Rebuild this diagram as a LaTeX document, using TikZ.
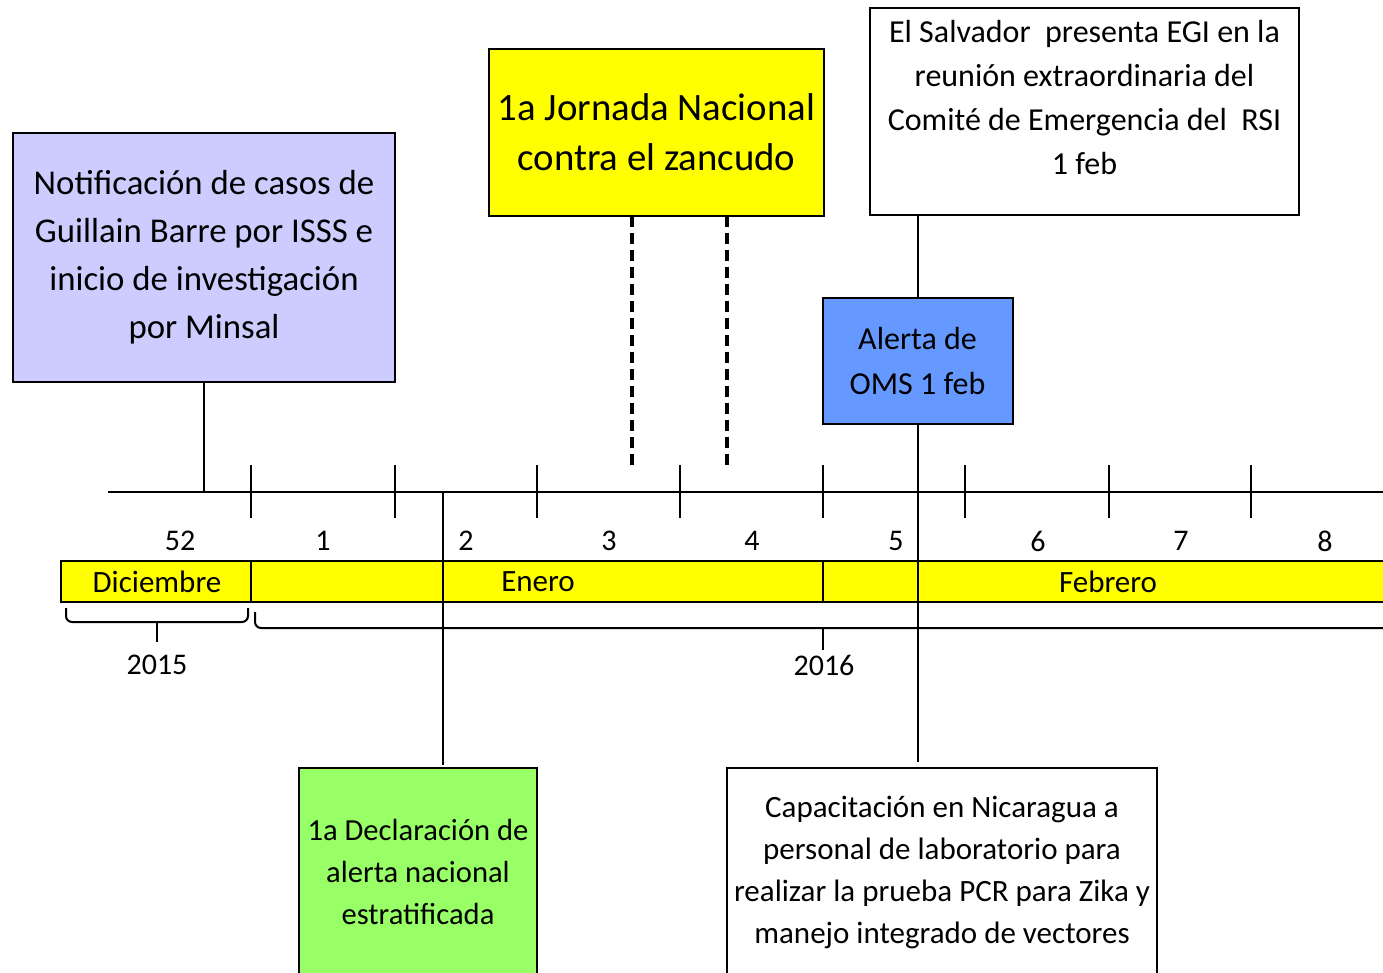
\documentclass[tikz,border=0pt]{standalone}
\usepackage{fontspec}
\setmainfont{Carlito}
\definecolor{lav}{HTML}{CCCCFF}
\definecolor{yel}{HTML}{FFFF00}
\definecolor{oms}{HTML}{6699FF}
\definecolor{grn}{HTML}{99FF66}
\begin{document}
\begin{tikzpicture}[x=0.5pt,y=-0.5pt,line width=1pt,
  box/.style={draw,line width=1pt,inner sep=0pt,align=center},
  txt/.style={inner sep=0pt,align=center},
  num/.style={inner sep=0pt,font=\fontsize{15}{18}\selectfont},
  mon/.style={inner sep=0pt,font=\fontsize{15.5}{18}\selectfont},
  dline/.style={line width=1.6pt,dash pattern=on 5.5pt off 3pt}]
\useasboundingbox (0,0) rectangle (1383,973);
\clip (0,0) rectangle (1383,973);
% timeline
\coordinate (tlA) at (108,492);
\coordinate (tlB) at (1390,492);
\draw (tlA) -- (tlB);
\foreach \x in {251,395,537,680,823,965,1109,1251}
  \draw (\x,465) -- (\x,518);
% week numbers
\foreach \x/\n in {180/52,323/1,466/2,609/3,752/4,896/5,1038/6,1181/7,1325/8}
  \node[num] (w\n) at (\x,541) {\n};
% month bar
\draw[fill=yel] (61,561) rectangle (1395,602);
\foreach \x in {251,823}
  \draw (\x,561) -- (\x,602);
\node[mon] (dic) at (157,582) {Diciembre};
\node[mon] (ene) at (538,582) {Enero};
\node[mon] (feb) at (1108,582) {Febrero};
% braces
\draw[rounded corners=3pt] (66,608) |- (157,622) -| (248,608);
\draw (157,622) -- (157,642);
\node[num] (y15) at (157,665) {2015};
\draw[rounded corners=3pt] (255,612) |- (1395,628);
\draw (823,628) -- (823,650);
\node[num] (y16) at (824,665) {2016};
% boxes
\node[box,fill=lav,minimum width=191pt,minimum height=124.5pt,
  font=\fontsize{17.4}{24}\selectfont] (notif) at (204,257.5)
  {Notificación de casos de\\Guillain Barre por ISSS e\\inicio de investigación\\por Minsal};
\node[box,fill=yel,minimum width=167.5pt,minimum height=83.5pt,
  font=\fontsize{19.4}{25}\selectfont] (jorn) at (656.5,132.5)
  {1a Jornada Nacional\\contra el zancudo};
\node[box,minimum width=214.5pt,minimum height=103.5pt] (egi) at (1084.5,111.5) {};
\node[txt,font=\fontsize{16}{22}\selectfont] (egit) at (1084.5,97.5)
  {El Salvador\ \ presenta EGI en la\\reunión extraordinaria del\\Comité de Emergencia del\ \ RSI\\1 feb};
\node[box,fill=oms,minimum width=95pt,minimum height=63pt,
  font=\fontsize{16}{22}\selectfont] (oms) at (917.5,361)
  {Alerta de\\OMS 1 feb};
\draw[fill=grn] (299,768) rectangle (537,990);
\node[txt,font=\fontsize{15.3}{21}\selectfont] (decl) at (418,871.5)
  {1a Declaración de\\alerta nacional\\estratificada};
\draw (727,768) rectangle (1157,990);
\node[txt,font=\fontsize{15.5}{21}\selectfont] (capa) at (942,872)
  {Capacitación en Nicaragua a\\personal de laboratorio para\\realizar la prueba PCR para Zika y\\manejo integrado de vectores};
\coordinate (declTop) at (443,765);
\coordinate (capaTop) at (917.5,762);
% connectors
\draw (notif.south) -- (notif.south |- tlA);
\draw[dline] (632,216) -- (632,465);
\draw[dline] (727,216) -- (727,465);
\draw (443,492) -- (declTop);
\draw (egi.south -| oms.north) -- (oms.north);
\draw (oms.south) -- (capaTop);
\end{tikzpicture}
\end{document}
